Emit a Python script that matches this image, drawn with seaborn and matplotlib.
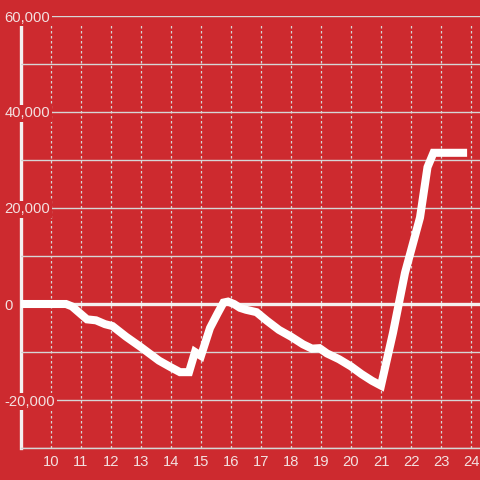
import matplotlib
matplotlib.use("Agg")
import matplotlib.pyplot as plt
import seaborn as sns
import pandas as pd

# ---- data ----
hours = [9.0, 10.5, 10.7, 11.2, 11.5, 11.8, 12.05, 12.5, 13.0, 13.6, 14.0, 14.3,
         14.6, 14.8, 15.0, 15.3, 15.55, 15.75, 15.9, 16.1, 16.3, 16.5, 16.85,
         17.2, 17.6, 18.0, 18.4, 18.7, 18.95, 19.2, 19.6, 20.0, 20.35, 20.7,
         21.0, 21.4, 21.8, 22.3, 22.55, 22.75, 23.87]
values = [0, 0, -500, -3200, -3400, -4200, -4600, -6800, -9000, -11800, -13200,
          -14200, -14200, -10000, -10800, -5000, -2000, 300, 500, 0, -800, -1200,
          -1700, -3500, -5400, -6800, -8400, -9300, -9200, -10300, -11500, -13000,
          -14600, -16000, -17000, -6000, 6500, 18000, 28500, 31500, 31500]
x_ticks = list(range(10, 25))
y_ticks = [-20000, 0, 20000, 40000, 60000]
y_tick_labels = ["-20,000", "0", "20,000", "40,000", "60,000"]
y_grid = [-30000, -20000, -10000, 0, 10000, 20000, 30000, 40000, 50000, 60000]

RED = "#CD2A2F"
TXT = "#F3E0E0"
GRID = "#D6D6D6"

df = pd.DataFrame({"hour": hours, "value": values})

sns.set_theme(style="white")
plt.rcParams["font.family"] = ["Liberation Sans", "DejaVu Sans"]

fig = plt.figure(figsize=(4.8, 4.8), dpi=100, facecolor=RED)
ax = fig.add_axes([21 / 480, 1 - 448 / 480, 1 - 21 / 480, (448 - 16) / 480])
ax.set_facecolor(RED)

ax.set_xlim(9, 9 + 459 / 30)
ax.set_ylim(-30000, 60000)

# horizontal gridlines
ax.yaxis.grid(True, color=GRID, linewidth=1.0)
ax.set_axisbelow("line")

# vertical dashed gridlines
ax.vlines(x_ticks, -30000, 58333, colors=GRID, linestyles=(0, (2, 2)),
          linewidth=0.9, zorder=0.9)

# zero line
ax.axhline(0, color="#F4F0F0", linewidth=2.4, zorder=1.6)

sns.lineplot(data=df, x="hour", y="value", ax=ax, color="white",
             linewidth=5.8, zorder=3, solid_capstyle="butt", solid_joinstyle="miter")

ax.set_xlabel("")
ax.set_ylabel("")

# ticks
ax.set_xticks(x_ticks)
ax.set_xticklabels([str(t) for t in x_ticks])
ax.tick_params(axis="x", length=0, pad=5, labelsize=10.6, labelcolor=TXT)

ax.set_yticks(y_grid)
lab = {v: l for v, l in zip(y_ticks, y_tick_labels)}
ax.set_yticklabels([lab.get(v, "") for v in y_grid])
ax.tick_params(axis="y", length=0, pad=12, labelsize=10.6, labelcolor=TXT)
for t in ax.get_yticklabels():
    t.set_horizontalalignment("left")
    if t.get_text():
        t.set_bbox(dict(facecolor=RED, edgecolor="none", pad=1.2))

# spines
for s in ["top", "right"]:
    ax.spines[s].set_visible(False)
ax.spines["left"].set_color("#F4F0F0")
ax.spines["left"].set_linewidth(2.4)
ax.spines["left"].set_bounds(-30000, 58333)
ax.spines["left"].set_zorder(1.0)
ax.spines["bottom"].set_color(GRID)
ax.spines["bottom"].set_linewidth(1.0)

fig.savefig("out.png", dpi=100, facecolor=RED)
